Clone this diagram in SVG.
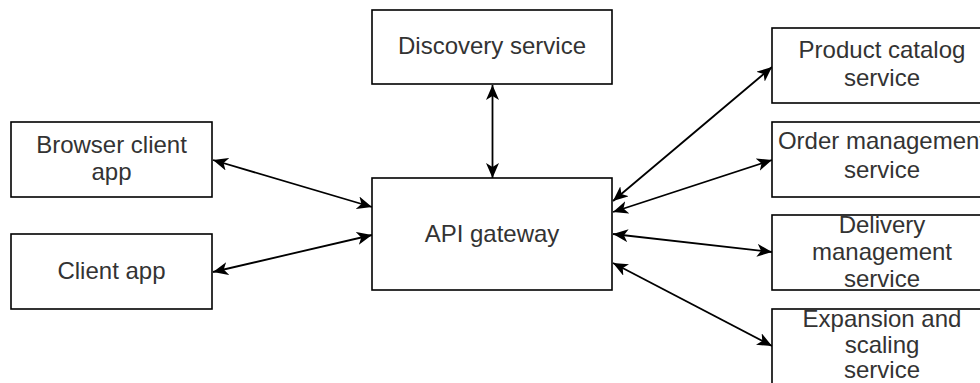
<svg xmlns="http://www.w3.org/2000/svg" width="980" height="383" viewBox="0 0 980 383">
<style>
.box{fill:#fff;stroke:#000;stroke-width:1.6}
.t{font-family:"Liberation Sans",Arial,sans-serif;font-size:24px;fill:#333;text-anchor:middle}
.c{fill:none;stroke:#000;stroke-width:1.8}
</style>
<defs>
<marker id="a" markerUnits="userSpaceOnUse" markerWidth="15" markerHeight="13" viewBox="0 0 15 13" refX="15" refY="6.5" orient="auto-start-reverse">
<path d="M0,0 L15,6.5 L0,13 L4,6.5 z" fill="#000"/>
</marker>
</defs>
<rect width="980" height="383" fill="#fff"/>
<g id="connectors">
<line class="c" x1="213" y1="160" x2="372" y2="207" marker-start="url(#a)" marker-end="url(#a)"/>
<line class="c" x1="213" y1="272" x2="372" y2="235" marker-start="url(#a)" marker-end="url(#a)"/>
<line class="c" x1="492.5" y1="85" x2="492.5" y2="178" marker-start="url(#a)" marker-end="url(#a)"/>
<line class="c" x1="613" y1="201" x2="772" y2="67" marker-start="url(#a)" marker-end="url(#a)"/>
<line class="c" x1="613" y1="212" x2="772" y2="160" marker-start="url(#a)" marker-end="url(#a)"/>
<line class="c" x1="613" y1="234" x2="772" y2="252" marker-start="url(#a)" marker-end="url(#a)"/>
<line class="c" x1="613" y1="263" x2="772" y2="346" marker-start="url(#a)" marker-end="url(#a)"/>
</g>
<g id="discovery"><rect class="box" x="372" y="10" width="240" height="74"/><text class="t" x="492" y="54">Discovery service</text></g>
<g id="browser"><rect class="box" x="11" y="122" width="201" height="75"/><text class="t" x="111.5" y="153">Browser client</text><text class="t" x="111.5" y="180">app</text></g>
<g id="client"><rect class="box" x="11" y="234" width="201" height="75"/><text class="t" x="111.5" y="279">Client app</text></g>
<g id="gateway"><rect class="box" x="372" y="178" width="240" height="112"/><text class="t" x="492" y="242">API gateway</text></g>
<g id="catalog"><rect class="box" x="772" y="28" width="220" height="75"/><text class="t" x="882" y="58">Product catalog</text><text class="t" x="882" y="86">service</text></g>
<g id="order"><rect class="box" x="772" y="122" width="220" height="75"/><text class="t" x="882" y="149">Order management</text><text class="t" x="882" y="178">service</text></g>
<g id="delivery"><rect class="box" x="772" y="215" width="220" height="75"/><text class="t" x="882" y="233">Delivery</text><text class="t" x="882" y="260">management</text><text class="t" x="882" y="287">service</text></g>
<g id="expansion"><rect class="box" x="772" y="309" width="220" height="80"/><text class="t" x="882" y="327">Expansion and</text><text class="t" x="882" y="353">scaling</text><text class="t" x="882" y="378">service</text></g>
</svg>
